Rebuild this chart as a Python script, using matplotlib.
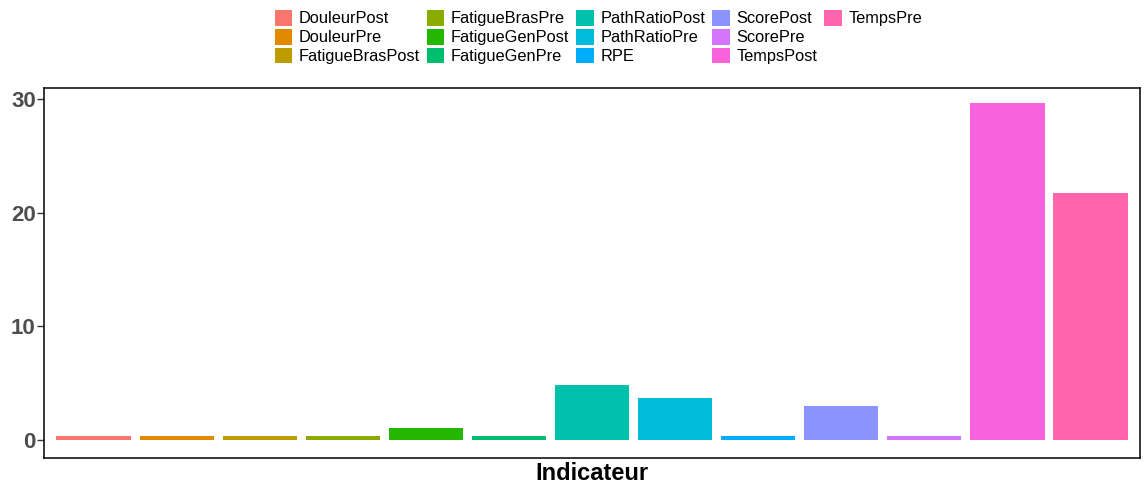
import matplotlib.pyplot as plt
from matplotlib.patches import Patch

plt.rcParams['font.family'] = ['Liberation Sans', 'DejaVu Sans']

indicateurs = ['DouleurPost', 'DouleurPre', 'FatigueBrasPost', 'FatigueBrasPre',
               'FatigueGenPost', 'FatigueGenPre', 'PathRatioPost', 'PathRatioPre',
               'RPE', 'ScorePost', 'ScorePre', 'TempsPost', 'TempsPre']
valeurs = [0.35, 0.35, 0.35, 0.35, 1.05, 0.35, 4.85, 3.7, 0.38, 3.0, 0.35, 29.7, 21.75]
couleurs = ['#F8766D', '#E18A00', '#BE9C00', '#8CAB00', '#24B700', '#00BE70', '#00C1AB',
            '#00BBDA', '#00ACFC', '#8B93FF', '#D575FE', '#F962DD', '#FF65AC']

fig = plt.figure(figsize=(11.44, 4.86), dpi=100)
ax = fig.add_axes([0.0385, 0.0576, 0.958, 0.7614])

x = list(range(1, len(indicateurs) + 1))
ax.bar(x, valeurs, width=0.9, color=couleurs)

ax.set_xlim(0.4, 13.6)
ax.set_ylim(-1.59, 31.0)
ax.set_xticks([])
ax.set_yticks([0, 10, 20, 30])
ax.tick_params(axis='y', length=5, width=1, color='#333333', labelcolor='#4D4D4D',
               labelsize=16, pad=1)
for lab in ax.get_yticklabels():
    lab.set_fontweight('bold')
for s in ax.spines.values():
    s.set_color('black')
    s.set_linewidth(1.1)
ax.set_xlabel('Indicateur', fontsize=17, fontweight='bold', labelpad=3)

handles = [Patch(facecolor=c, edgecolor='none') for c in couleurs]
labels = list(indicateurs)
# two blank entries so the columns fill 3-3-3-3-1 like the original
handles += [Patch(facecolor='none', edgecolor='none')] * 2
labels += ['', '']
fig.legend(handles, labels, loc='upper center', bbox_to_anchor=(0.523, 1.01), ncol=5,
           frameon=False, fontsize=11.8, handlelength=1.05, handleheight=1.1,
           handletextpad=0.4, columnspacing=0.45, labelspacing=0.15)

fig.savefig('out.png', dpi=100)
